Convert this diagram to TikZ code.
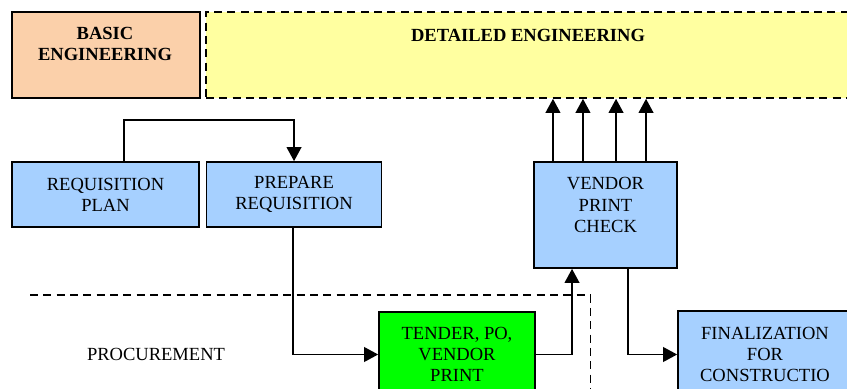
\documentclass[tikz,border=0pt]{standalone}
\usepackage{fontspec}
\setmainfont{Liberation Serif}
\usetikzlibrary{arrows.meta,positioning}

\definecolor{basicfill}{RGB}{251,208,170}
\definecolor{detailfill}{RGB}{255,255,160}
\definecolor{stepfill}{RGB}{166,208,255}
\definecolor{tenderfill}{RGB}{0,255,0}

\begin{document}
\begin{tikzpicture}[x=0.75pt, y=-0.75pt,
  box/.style={rectangle,draw,line width=1.25pt,inner sep=0pt,align=center,font=\fontsize{13.9}{15.8}\selectfont},
  txt/.style={inner sep=0pt,align=center,font=\fontsize{13.9}{15.8}\selectfont},
  arrow/.style={-{Triangle[length=10.5pt,width=11pt]},line width=1.25pt},
  border/.style={dash pattern=on 6pt off 4pt,line width=1.2pt}]
\useasboundingbox (0,0) rectangle (847,389);
% engineering phases
\node[box,fill=basicfill,minimum width=141pt,minimum height=64.5pt] (basic) at (106,55) {};
\node[txt,font=\fontsize{13.9}{15.8}\selectfont\bfseries] (basic-t) at (105,44) {BASIC\\ENGINEERING};
\node[box,border,fill=detailfill,minimum width=498.75pt,minimum height=64.5pt,right=3.2pt of basic] (detail) {};
\node[txt,font=\fontsize{13.9}{15.8}\selectfont\bfseries] (detail-t) at (528,35) {DETAILED ENGINEERING};
% requisition
\node[box,fill=stepfill,minimum width=140.25pt,minimum height=48.75pt] (reqplan) at (105.5,194.5) {REQUISITION\\PLAN};
\node[box,fill=stepfill,minimum width=131.25pt,minimum height=48.75pt,right=4.4pt of reqplan] (prepare) {PREPARE\\REQUISITION};
\node[box,fill=stepfill,minimum width=107.25pt,minimum height=79.5pt] (vprint) at (605.5,215) {};
\node[txt] (vprint-t) at (605.5,205) {VENDOR\\PRINT\\CHECK};
% procurement
\draw[border] (30,295) -- (590.5,295) -- (590.5,400);
\node[txt] (procure) at (156,354) {PROCUREMENT};
\node[box,fill=tenderfill,minimum width=117pt,minimum height=63.75pt] (tender) at (457,354.5) {TENDER, PO,\\VENDOR\\PRINT};
\node[box,fill=stepfill,minimum width=130.5pt,minimum height=65.25pt] (final) at (765,354.5) {FINALIZATION\\FOR\\CONSTRUCTIO};
% connectors
\draw[arrow] ([xshift=13.9pt]reqplan.north) -- ++(0,-41) -| (prepare.north);
\draw[arrow] ([xshift=-0.6pt]prepare.south) |- (tender.west);
\draw[arrow] (tender.east) -| ([xshift=-25.1pt]vprint.south);
\draw[arrow] ([xshift=16.9pt]vprint.south) |- (final.west);
\foreach \dx in {-39.4,-16.9,7.9,30.4}
  \draw[arrow] ([xshift=\dx pt]vprint.north) -- ([xshift=\dx pt]vprint.north |- detail.south);
\end{tikzpicture}
\end{document}
